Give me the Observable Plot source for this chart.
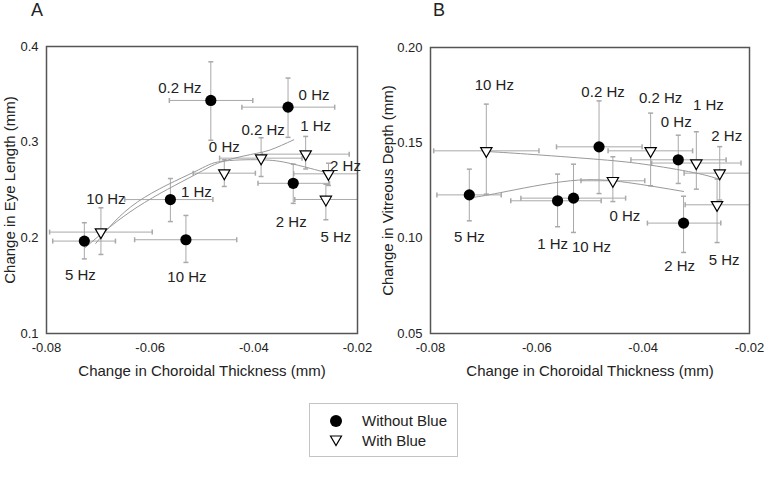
<!DOCTYPE html>
<html><head><meta charset="utf-8">
<script src="https://cdn.jsdelivr.net/npm/d3@7"></script>
<script src="https://cdn.jsdelivr.net/npm/@observablehq/plot@0.6"></script>
<style>
body{margin:0;background:#fff;font-family:"Liberation Sans",Arial,sans-serif;}
#wrap{position:relative;width:764px;height:478px;overflow:hidden;background:#fff;}
.panel{position:absolute;top:0;}
.letter{position:absolute;top:0px;font-size:18px;color:#222;line-height:20px;}
#legend{position:absolute;left:309px;top:403px;width:149px;height:54px;border:1px solid #c4c4c4;box-sizing:border-box;font-size:15px;color:#222;}
#legend .row{position:absolute;left:0;height:18px;line-height:18px;}
#legend svg{position:absolute;left:19px;top:0;}
#legend span{position:absolute;left:52px;top:0;white-space:nowrap;}
</style></head><body>
<div id="wrap">
  <div id="pa" class="panel" style="left:0px"></div>
  <div id="pb" class="panel" style="left:380px"></div>
  <div class="letter" style="left:31px">A</div>
  <div class="letter" style="left:433px">B</div>
  <div id="legend">
    <div class="row" style="top:8px"><svg width="16" height="18"><circle cx="7" cy="9" r="6" fill="#000"/></svg><span>Without Blue</span></div>
    <div class="row" style="top:28px"><svg width="16" height="18"><path d="M1.5,4 L12.5,4 L7,13.5 Z" fill="#fff" stroke="#000" stroke-width="1.2"/></svg><span>With Blue</span></div>
  </div>
</div>
<script>
// ---------- data ----------
const conditions = ["0 Hz", "0.2 Hz", "1 Hz", "2 Hz", "5 Hz", "10 Hz"];

// Without Blue: change in choroidal thickness (mm) with error limits
const choroidNoBlue   = [-0.0334, -0.0483, -0.0561, -0.0324, -0.0727, -0.0531];
const choroidNoBlueLo = [-0.0423, -0.0563, -0.0649, -0.0392, -0.0788, -0.0630];
const choroidNoBlueHi = [-0.0244, -0.0402, -0.0479, -0.0254, -0.0667, -0.0433];
// Without Blue: change in eye length (mm)
const eyeNoBlue   = [0.3366, 0.3436, 0.240, 0.257, 0.1966, 0.198];
const eyeNoBlueLo = [0.305, 0.302, 0.217, 0.236, 0.178, 0.1743];
const eyeNoBlueHi = [0.367, 0.384, 0.262, 0.277, 0.2158, 0.2234];
// Without Blue: change in vitreous depth (mm)
const vitNoBlue   = [0.1411, 0.1479, 0.1196, 0.1079, 0.1227, 0.1210];
const vitNoBlueLo = [0.1287, 0.1234, 0.1060, 0.0925, 0.1091, 0.1030];
const vitNoBlueHi = [0.1540, 0.1720, 0.1336, 0.1220, 0.1362, 0.1388];

// With Blue
const choroidBlue   = [-0.0457, -0.0386, -0.0300, -0.0256, -0.0261, -0.0695];
const choroidBlueLo = [-0.0517, -0.0466, -0.0384, -0.0323, -0.0321, -0.0794];
const choroidBlueHi = [-0.0397, -0.0307, -0.0216, -0.0190, -0.0190, -0.0596];
const eyeBlue   = [0.2676, 0.2833, 0.2875, 0.2669, 0.2401, 0.206];
const eyeBlueLo = [0.2537, 0.2641, 0.272, 0.2547, 0.2189, 0.1826];
const eyeBlueHi = [0.2816, 0.3046, 0.306, 0.278, 0.256, 0.2314];
const vitBlue   = [0.1301, 0.1458, 0.1394, 0.1341, 0.1175, 0.1458];
const vitBlueLo = [0.1192, 0.1275, 0.1257, 0.1200, 0.0977, 0.1231];
const vitBlueHi = [0.1427, 0.1656, 0.1558, 0.1480, 0.1310, 0.1703];

// Fitted curves
const fitEyeNoBlueX = [-0.0725, -0.0625, -0.0516, -0.0464, -0.0406, -0.0368, -0.0323];
const fitEyeNoBlueY = [0.190, 0.2321, 0.2652, 0.2791, 0.2871, 0.292, 0.3025];
const fitEyeBlueX = [-0.0705, -0.0625, -0.0516, -0.0464, -0.0387, -0.0329, -0.0271, -0.0256];
const fitEyeBlueY = [0.1941, 0.2373, 0.2686, 0.2798, 0.2816, 0.2777, 0.2697, 0.2673];
const fitVitNoBlueX = [-0.0722, -0.0668, -0.0537, -0.0430, -0.0324];
const fitVitNoBlueY = [0.1213, 0.1239, 0.1301, 0.1292, 0.1245];
const fitVitBlueX = [-0.0697, -0.0618, -0.0493, -0.0399, -0.0305, -0.0258];
const fitVitBlueY = [0.1455, 0.1441, 0.1415, 0.1388, 0.1344, 0.1310];

// Tick labels
const xTicks = [-0.08, -0.06, -0.04, -0.02];
const yTicksA = [0.1, 0.2, 0.3, 0.4];
const yTicksB = [0.05, 0.10, 0.15, 0.20];

// Label placement offsets (pixels) for each condition label
const labelOffANoBlue = [[26,-12],[-31,-12],[26,-7],[-2,39],[-4,34],[1,37]];
const labelOffABlue   = [[0,-26],[2,-28],[10,-28],[17,-8],[10,38],[5,-33]];
const labelOffBNoBlue = [[-2,-38],[4,-55],[-5,43],[-4,43],[0,42],[18,49]];
const labelOffBBlue   = [[12,35],[10,-53],[12,-58],[7,-37],[7,55],[8,-66]];

// ---------- build ----------
function rows(x, xlo, xhi, y, ylo, yhi, off) {
  return conditions.map((c, i) => ({cond: c, x: x[i], xlo: xlo[i], xhi: xhi[i], y: y[i], ylo: ylo[i], yhi: yhi[i], dx: off[i][0], dy: off[i][1]}));
}
function pts(xs, ys) { return xs.map((x, i) => ({x, y: ys[i]})); }

const vcap = {draw(ctx) { ctx.moveTo(0, -2.5); ctx.lineTo(0, 2.5); }};
const hcap = {draw(ctx) { ctx.moveTo(-2.5, 0); ctx.lineTo(2.5, 0); }};

function panel(o) {
  const all = [...o.noBlue, ...o.blue];
  const ec = "#a9a9a9";
  const font = "Liberation Sans, Arial, sans-serif";
  return Plot.plot({
    width: o.width, height: 390,
    marginLeft: o.marginLeft, marginRight: o.marginRight, marginTop: o.marginTop, marginBottom: 57,
    style: {fontFamily: font, fontSize: "13px", color: "#222", background: "transparent", overflow: "visible"},
    x: {domain: [-0.08, -0.02]},
    y: {domain: o.yDomain},
    marks: [
      Plot.link(all, {x1: "xlo", x2: "xhi", y1: "y", y2: "y", stroke: ec, strokeWidth: 1, clip: true}),
      Plot.link(all, {x1: "x", x2: "x", y1: "ylo", y2: "yhi", stroke: ec, strokeWidth: 1, clip: true}),
      Plot.dot(all, {x: "xlo", y: "y", symbol: vcap, r: 3, stroke: ec, clip: true}),
      Plot.dot(all, {x: "xhi", y: "y", symbol: vcap, r: 3, stroke: ec, clip: true}),
      Plot.dot(all, {x: "x", y: "ylo", symbol: hcap, r: 3, stroke: ec, clip: true}),
      Plot.dot(all, {x: "x", y: "yhi", symbol: hcap, r: 3, stroke: ec, clip: true}),
      ...o.fits.map(f => Plot.line(f, {x: "x", y: "y", stroke: "#999", strokeWidth: 1, curve: "natural"})),
      Plot.frame({stroke: "#555", strokeWidth: 1.5}),
      Plot.axisX({ticks: xTicks, tickFormat: d => d.toFixed(2), tickSize: 0, tickPadding: 9, fontSize: 13, label: null}),
      Plot.axisY({ticks: o.yTicks, tickFormat: o.yFmt, tickSize: 0, tickPadding: 8, fontSize: 13, label: null}),
      Plot.text(["Change in Choroidal Thickness (mm)"], {frameAnchor: "bottom", dy: 38, textAnchor: "middle", lineAnchor: "middle", text: d => d, fontSize: 15, fill: "#222"}),
      Plot.text([o.yLabel], {frameAnchor: "left", dx: -o.yTitleGap, rotate: -90, textAnchor: "middle", lineAnchor: "middle", text: d => d, fontSize: 15, fill: "#222"}),
      Plot.dot(o.noBlue, {x: "x", y: "y", r: 5.6, fill: "#000", stroke: "none"}),
      Plot.dot(o.blue, {x: "x", y: "y", symbol: "triangle", rotate: 180, r: 4.2, fill: "#fff", stroke: "#000", strokeWidth: 1.2}),
      ...all.map(d => Plot.text([d], {x: "x", y: "y", text: "cond", dx: d.dx, dy: d.dy, fontSize: 15, fill: "#222"}))
    ]
  });
}

const noBlueA = rows(choroidNoBlue, choroidNoBlueLo, choroidNoBlueHi, eyeNoBlue, eyeNoBlueLo, eyeNoBlueHi, labelOffANoBlue);
const blueA = rows(choroidBlue, choroidBlueLo, choroidBlueHi, eyeBlue, eyeBlueLo, eyeBlueHi, labelOffABlue);
const noBlueB = rows(choroidNoBlue, choroidNoBlueLo, choroidNoBlueHi, vitNoBlue, vitNoBlueLo, vitNoBlueHi, labelOffBNoBlue);
const blueB = rows(choroidBlue, choroidBlueLo, choroidBlueHi, vitBlue, vitBlueLo, vitBlueHi, labelOffBBlue);

document.getElementById("pa").append(panel({
  width: 380, marginLeft: 46, marginRight: 23, marginTop: 46,
  yDomain: [0.1, 0.4], yTicks: yTicksA, yFmt: d => d.toFixed(1),
  yLabel: "Change in Eye Length (mm)", yTitleGap: 36,
  noBlue: noBlueA, blue: blueA,
  fits: [pts(fitEyeNoBlueX, fitEyeNoBlueY), pts(fitEyeBlueX, fitEyeBlueY)]
}));
document.getElementById("pb").append(panel({
  width: 384, marginLeft: 50, marginRight: 15, marginTop: 47,
  yDomain: [0.05, 0.20], yTicks: yTicksB, yFmt: d => d.toFixed(2),
  yLabel: "Change in Vitreous Depth (mm)", yTitleGap: 42,
  noBlue: noBlueB, blue: blueB,
  fits: [pts(fitVitNoBlueX, fitVitNoBlueY), pts(fitVitBlueX, fitVitBlueY)]
}));
</script>
</body></html>
